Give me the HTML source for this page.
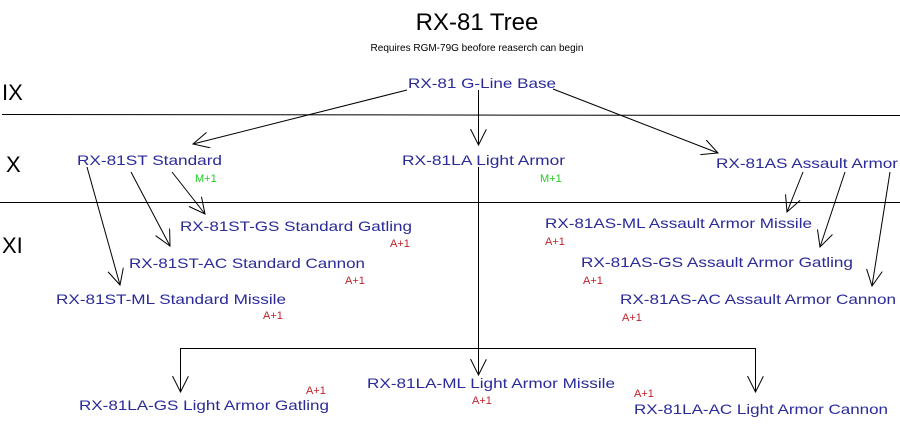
<!DOCTYPE html>
<html><head><meta charset="utf-8"><style>
html,body{margin:0;padding:0;background:#fff;width:900px;height:431px;overflow:hidden}
svg text{font-family:"Liberation Sans",Arial,sans-serif}
.n{fill:#2a2a9a;font-size:14px}
.a{fill:#c0202a;font-size:11px}
.m{fill:#22cc22;font-size:11px}
</style></head><body>
<svg width="900" height="431" viewBox="0 0 900 431" xmlns="http://www.w3.org/2000/svg">
<defs><marker id="ar" markerWidth="20" markerHeight="20" refX="16" refY="8" orient="auto" markerUnits="userSpaceOnUse"><path d="M0,0 L16,8 L0,16" fill="none" stroke="#000" stroke-width="1"/></marker></defs>
<text x="477" y="30" font-size="24" text-anchor="middle" fill="#000">RX-81 Tree</text>
<text x="477" y="51" font-size="10" text-anchor="middle" fill="#000">Requires RGM-79G beofore reaserch can begin</text>
<text x="2" y="100" font-size="22" fill="#000">IX</text>
<text x="6" y="172" font-size="22" fill="#000">X</text>
<text x="2" y="253" font-size="22" fill="#000">XI</text>
<g stroke="#000" stroke-width="1" fill="none">
<line x1="2" y1="114.5" x2="900" y2="115.5"/>
<line x1="0" y1="202.5" x2="900" y2="202.5"/>
<line x1="407" y1="90" x2="193" y2="144" marker-end="url(#ar)"/>
<line x1="478.5" y1="90" x2="478.5" y2="145" marker-end="url(#ar)"/>
<line x1="553" y1="89" x2="718" y2="153" marker-end="url(#ar)"/>
<line x1="478.5" y1="167" x2="478.5" y2="375" marker-end="url(#ar)"/>
<polyline points="180.5,392 180.5,348.5 755.5,348.5 755.5,392"/>
<line x1="180.5" y1="370" x2="180.5" y2="392" marker-end="url(#ar)"/>
<line x1="755.5" y1="370" x2="755.5" y2="392" marker-end="url(#ar)"/>
<line x1="87" y1="167" x2="120" y2="285" marker-end="url(#ar)"/>
<line x1="131" y1="172" x2="170" y2="246" marker-end="url(#ar)"/>
<line x1="172" y1="172" x2="205" y2="214" marker-end="url(#ar)"/>
<line x1="803" y1="172" x2="787" y2="212" marker-end="url(#ar)"/>
<line x1="845" y1="172" x2="820" y2="247" marker-end="url(#ar)"/>
<line x1="890" y1="172" x2="872" y2="286" marker-end="url(#ar)"/>
</g>
<text class="n" x="408" y="88" textLength="148" lengthAdjust="spacingAndGlyphs">RX-81 G-Line Base</text>
<text class="n" x="77" y="165" textLength="145" lengthAdjust="spacingAndGlyphs">RX-81ST Standard</text>
<text class="n" x="402" y="165" textLength="163" lengthAdjust="spacingAndGlyphs">RX-81LA Light Armor</text>
<text class="n" x="716" y="168" textLength="182" lengthAdjust="spacingAndGlyphs">RX-81AS Assault Armor</text>
<text class="m" x="195" y="182">M+1</text>
<text class="m" x="540" y="182">M+1</text>
<text class="n" x="180" y="231" textLength="232" lengthAdjust="spacingAndGlyphs">RX-81ST-GS Standard Gatling</text>
<text class="a" x="390" y="247">A+1</text>
<text class="n" x="129" y="268" textLength="236" lengthAdjust="spacingAndGlyphs">RX-81ST-AC Standard Cannon</text>
<text class="a" x="345" y="284">A+1</text>
<text class="n" x="56" y="304" textLength="230" lengthAdjust="spacingAndGlyphs">RX-81ST-ML Standard Missile</text>
<text class="a" x="263" y="319">A+1</text>
<text class="n" x="545" y="228" textLength="267" lengthAdjust="spacingAndGlyphs">RX-81AS-ML Assault Armor Missile</text>
<text class="a" x="545" y="245">A+1</text>
<text class="n" x="581" y="267" textLength="272" lengthAdjust="spacingAndGlyphs">RX-81AS-GS Assault Armor Gatling</text>
<text class="a" x="583" y="284">A+1</text>
<text class="n" x="620" y="304" textLength="276" lengthAdjust="spacingAndGlyphs">RX-81AS-AC Assault Armor Cannon</text>
<text class="a" x="622" y="321">A+1</text>
<text class="n" x="367" y="388" textLength="248" lengthAdjust="spacingAndGlyphs">RX-81LA-ML Light Armor Missile</text>
<text class="a" x="472" y="404">A+1</text>
<text class="n" x="79" y="410" textLength="250" lengthAdjust="spacingAndGlyphs">RX-81LA-GS Light Armor Gatling</text>
<text class="a" x="306" y="394">A+1</text>
<text class="n" x="634" y="414" textLength="254" lengthAdjust="spacingAndGlyphs">RX-81LA-AC Light Armor Cannon</text>
<text class="a" x="634" y="397">A+1</text>
</svg>
</body></html>
